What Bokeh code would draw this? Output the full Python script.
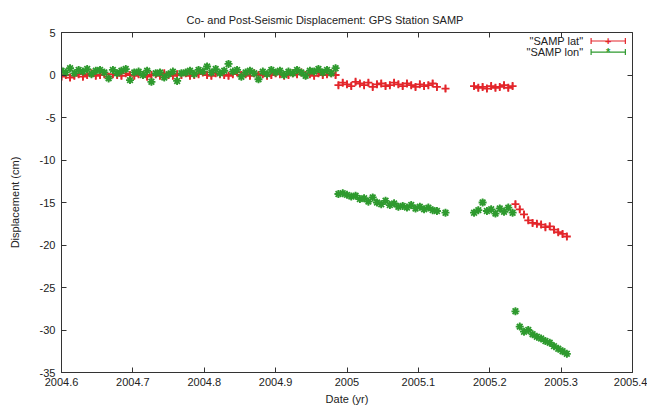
from bokeh.plotting import figure
from bokeh.models import Range1d, FixedTicker, CustomJSTickFormatter, LinearAxis, Label, Arrow, TeeHead
from bokeh.embed import file_html
from bokeh.resources import INLINE

# ---------------- data ----------------
title = "Co- and Post-Seismic Displacement: GPS Station SAMP"
x_label = "Date (yr)"
y_label = "Displacement (cm)"
series_names = ['"SAMP lat"', '"SAMP lon"']

x_ticks = [2004.6, 2004.7, 2004.8, 2004.9, 2005.0, 2005.1, 2005.2, 2005.3, 2005.4]
y_ticks = [5, 0, -5, -10, -15, -20, -25, -30, -35]

# segment A: before the Sumatra earthquake
dates_a = [2004.600, 2004.606, 2004.612, 2004.618, 2004.624, 2004.630, 2004.636, 2004.642, 2004.648, 2004.654,
           2004.660, 2004.666, 2004.672, 2004.678, 2004.684, 2004.690, 2004.696, 2004.702, 2004.708, 2004.714,
           2004.720, 2004.726, 2004.732, 2004.738, 2004.744, 2004.750, 2004.756, 2004.762, 2004.768, 2004.774,
           2004.780, 2004.786, 2004.792, 2004.798, 2004.804, 2004.810, 2004.816, 2004.822, 2004.828, 2004.834,
           2004.840, 2004.846, 2004.852, 2004.858, 2004.864, 2004.870, 2004.876, 2004.882, 2004.888, 2004.894,
           2004.900, 2004.906, 2004.912, 2004.918, 2004.924, 2004.930, 2004.936, 2004.942, 2004.948, 2004.954,
           2004.960, 2004.966, 2004.972, 2004.978, 2004.984]
lat_a = [-0.2, 0.0, -0.3, -0.1, 0.1, -0.2, 0.0, 0.2, -0.1, 0.0,
         0.1, -0.2, 0.1, 0.0, -0.1, 0.2, 0.0, -0.1, 0.1, 0.0,
         -0.2, 0.0, 0.1, -0.1, 0.2, 0.0, -0.1, 0.1, 0.0, 0.2,
         -0.1, 0.0, 0.1, 0.3, 0.0, -0.1, 0.2, 0.1, 0.0, -0.1,
         0.1, 0.3, 0.0, 0.1, -0.1, 0.2, 0.0, 0.1, -0.1, 0.0,
         0.2, 0.1, -0.1, 0.0, 0.2, 0.1, 0.3, 0.0, 0.1, -0.1,
         0.2, 0.0, 0.1, 0.2, 0.0]
lon_a = [0.5, 0.3, 0.8, 0.2, 0.6, 0.4, 0.7, 0.1, 0.5, 0.6,
         0.3, -0.4, 0.6, 0.2, 0.5, 0.7, -0.6, 0.3, 0.4, 0.0,
         0.5, -0.8, 0.2, 0.3, -0.3, 0.1, 0.4, -0.7, 0.2, 0.3,
         0.5, 0.1, 0.6, 0.4, 1.0, 0.3, 0.7, 0.2, 0.5, 1.3,
         0.4, 0.6, -0.2, 0.3, 0.5, 0.2, -0.5, 0.4, 0.1, 0.6,
         0.3, 0.5, 0.0, 0.4, 0.2, 0.6, 0.3, -0.1, 0.5, 0.4,
         0.7, 0.3, 0.6, 0.2, 0.8]

# segment B: after the Sumatra earthquake
dates_b = [2004.988, 2004.994, 2005.000, 2005.006, 2005.012, 2005.018, 2005.024, 2005.030, 2005.036, 2005.042,
           2005.048, 2005.054, 2005.060, 2005.066, 2005.072, 2005.078, 2005.084, 2005.090, 2005.096, 2005.102,
           2005.108, 2005.114, 2005.120, 2005.126, 2005.138]
lat_b = [-1.2, -0.9, -1.1, -1.3, -0.8, -1.0, -1.2, -0.9, -1.4, -1.1,
         -1.0, -1.3, -1.2, -0.9, -1.1, -1.3, -1.0, -1.2, -1.4, -1.1,
         -1.3, -1.2, -1.0, -1.4, -1.6]
lon_b = [-14.0, -13.9, -14.1, -14.3, -14.2, -14.6, -14.5, -14.9, -14.4, -15.0,
         -15.2, -14.8, -15.3, -15.1, -15.5, -15.4, -15.6, -15.3, -15.7, -15.5,
         -15.8, -15.6, -15.9, -16.0, -16.2]

# segment C: before the Nias earthquake
dates_c = [2005.178, 2005.184, 2005.190, 2005.196, 2005.202, 2005.208, 2005.214, 2005.220, 2005.226, 2005.232]
lat_c = [-1.3, -1.5, -1.4, -1.6, -1.3, -1.5, -1.4, -1.2, -1.5, -1.3]
lon_c = [-16.2, -15.9, -15.0, -16.0, -15.8, -16.3, -15.7, -16.1, -15.6, -16.2]

# segment D: after the Nias earthquake
dates_d = [2005.236, 2005.242, 2005.248, 2005.254, 2005.260, 2005.266, 2005.272, 2005.278, 2005.284, 2005.290,
           2005.296, 2005.302, 2005.308]
lat_d = [-15.2, -15.8, -16.4, -17.1, -17.4, -17.5, -17.6, -17.9, -17.8, -18.2, -18.5, -18.7, -19.0]
lon_d = [-27.8, -29.6, -30.2, -30.0, -30.5, -30.8, -31.0, -31.3, -31.5, -31.9, -32.2, -32.5, -32.8]

err = 0.4

dates = dates_a + dates_b + dates_c + dates_d
lat = lat_a + lat_b + lat_c + lat_d
lon = lon_a + lon_b + lon_c + lon_d

# ---------------- styling ----------------
RED = "#e3262b"
GREEN = "#2e9a2e"
FONT = "Liberation Sans"
TXT = "#222222"

p = figure(width=647, height=407, x_range=Range1d(2004.6, 2005.4), y_range=Range1d(-35, 5),
           output_backend="svg", toolbar_location=None,
           min_border_left=61, min_border_right=15, min_border_top=32, min_border_bottom=35,
           title=title)
p.title.align = "left"
p.title.offset = 125
p.title.vertical_align = "top"
p.title.text_font = FONT
p.title.text_font_size = "11px"
p.title.text_font_style = "normal"
p.title.text_color = TXT

p.grid.visible = False
p.outline_line_color = "#333333"
p.outline_line_width = 1
p.background_fill_color = "white"
p.border_fill_color = "white"

fmt = CustomJSTickFormatter(code="return (Math.round(tick*10)/10).toString();")
blank = CustomJSTickFormatter(code="return '';")

for ax in (p.xaxis[0], p.yaxis[0]):
    ax.major_tick_in = 5
    ax.major_tick_out = 0
    ax.minor_tick_line_color = None
    ax.axis_line_color = "#333333"
    ax.major_tick_line_color = "#333333"
    ax.major_label_text_font = FONT
    ax.major_label_text_font_size = "11px"
    ax.major_label_text_color = TXT
    ax.axis_label_text_font = FONT
    ax.axis_label_text_font_size = "11px"
    ax.axis_label_text_font_style = "normal"
    ax.axis_label_text_color = TXT

p.xaxis[0].ticker = FixedTicker(ticks=x_ticks)
p.xaxis[0].formatter = fmt
p.xaxis[0].axis_label = x_label
p.xaxis[0].major_label_standoff = 5
p.xaxis[0].axis_label_standoff = 4
p.yaxis[0].ticker = FixedTicker(ticks=y_ticks)
p.yaxis[0].formatter = fmt
p.yaxis[0].axis_label = y_label
p.yaxis[0].major_label_standoff = 6
p.yaxis[0].axis_label_standoff = 16

top = LinearAxis(ticker=FixedTicker(ticks=x_ticks), formatter=blank,
                 major_tick_in=5, major_tick_out=0, minor_tick_line_color=None,
                 axis_line_color=None, major_tick_line_color="#333333")
right = LinearAxis(ticker=FixedTicker(ticks=y_ticks), formatter=blank,
                   major_tick_in=5, major_tick_out=0, minor_tick_line_color=None,
                   axis_line_color=None, major_tick_line_color="#333333")
p.add_layout(top, "above")
p.add_layout(right, "right")

# error bars + points
lat_lo = [v - err for v in lat]
lat_hi = [v + err for v in lat]
lon_lo = [v - err for v in lon]
lon_hi = [v + err for v in lon]

p.segment(x0=dates, y0=lat_lo, x1=dates, y1=lat_hi, line_color=RED, line_width=1.6)
p.scatter(dates, lat, marker="cross", size=8, line_color=RED, line_width=1.8)
p.segment(x0=dates, y0=lon_lo, x1=dates, y1=lon_hi, line_color=GREEN, line_width=1.6)
p.scatter(dates, lon, marker="asterisk", size=8, line_color=GREEN, line_width=1.8)

# gnuplot-style key (text on the left, sample on the right)
key_x_text = 2005.331
key_x0 = 2005.342
key_x1 = 2005.390
key_rows = [4.0, 2.7]
for name, col, row, mk in zip(series_names, [RED, GREEN], key_rows, ["+", "*"]):
    p.add_layout(Label(x=key_x_text, y=row, text=name, text_align="right", text_baseline="middle",
                       text_font=FONT, text_font_size="11px", text_color=TXT))
    p.add_layout(Arrow(x_start=key_x0, y_start=row, x_end=key_x1, y_end=row,
                       start=TeeHead(size=6, line_color=col, line_width=1.2),
                       end=TeeHead(size=6, line_color=col, line_width=1.2),
                       line_color=col, line_width=1.2))
    p.add_layout(Label(x=(key_x0 + key_x1) / 2, y=row, text=mk, text_align="center", text_baseline="middle",
                       text_font=FONT, text_font_size="11px", text_color=col, text_font_style="bold"))

open("out.html", "w").write(file_html(p, INLINE))
